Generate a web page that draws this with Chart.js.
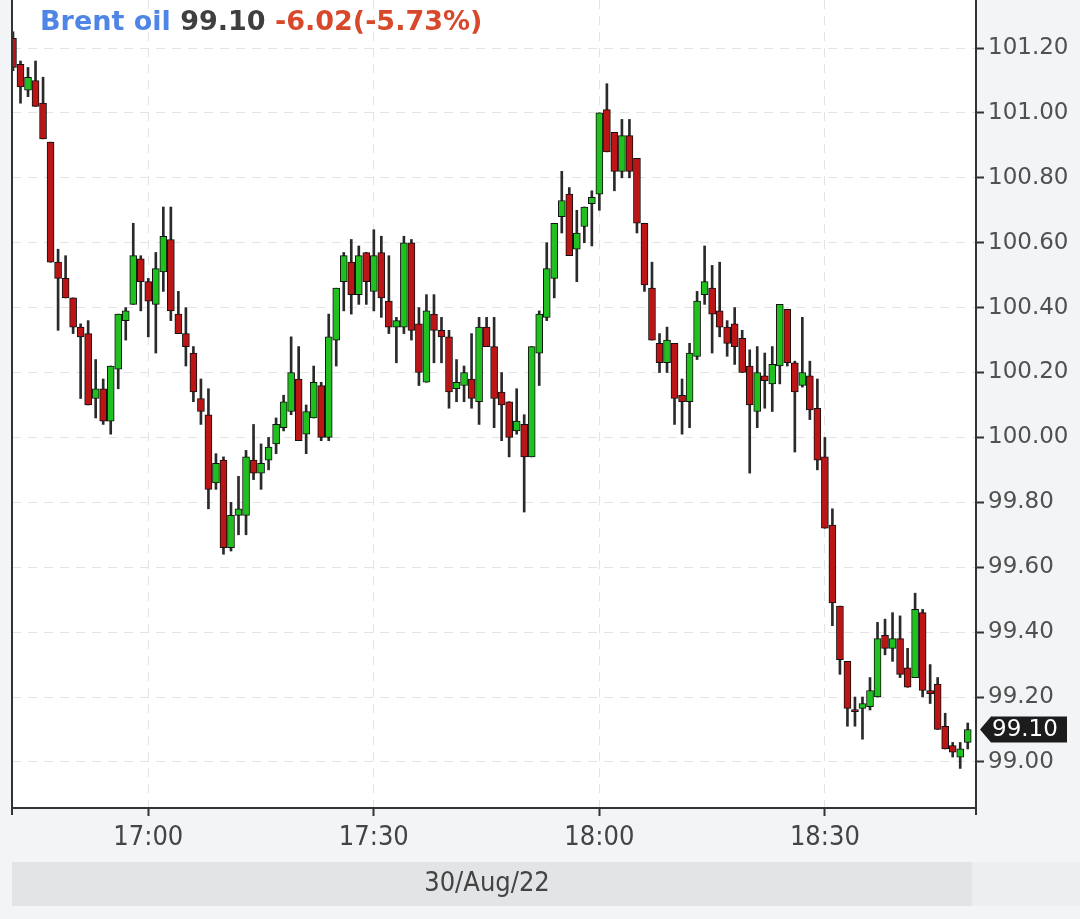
<!DOCTYPE html>
<html lang="en">
<head>
  <meta charset="UTF-8" />
  <title>Brent oil</title>
  <script src="https://cdn.jsdelivr.net/npm/chart.js"></script>
  <style>
    html, body { margin: 0; padding: 0; background: #f3f4f6; }
    #wrap { position: relative; width: 1080px; height: 919px; }
  </style>
</head>
<body>
<div id="wrap"><canvas id="oilChart"></canvas></div>

<script>
  // one candle per minute, 16:42 .. 18:49
  const opens = [101.23,101.15,101.07,101.10,101.03,100.91,100.54,100.49,100.43,100.34,100.32,100.12,100.15,100.05,100.21,100.36,
    100.41,100.55,100.48,100.41,100.51,100.61,100.38,100.32,100.26,100.12,100.07,99.86,99.93,99.66,99.76,99.76,
    99.93,99.89,99.93,99.98,100.03,100.08,100.18,100.01,100.06,100.16,100.00,100.30,100.48,100.54,100.44,100.57,
    100.45,100.57,100.42,100.34,100.34,100.60,100.35,100.17,100.38,100.33,100.31,100.15,100.16,100.18,100.11,100.34,
    100.28,100.14,100.11,100.02,100.04,99.94,100.26,100.37,100.49,100.68,100.75,100.58,100.65,100.72,100.75,101.01,
    100.94,100.82,100.93,100.86,100.66,100.46,100.29,100.23,100.29,100.13,100.11,100.25,100.44,100.46,100.39,100.34,
    100.35,100.305,100.22,100.08,100.19,100.165,100.22,100.395,100.23,100.16,100.19,100.09,99.94,99.73,99.48,99.31,
    99.16,99.165,99.17,99.20,99.39,99.35,99.38,99.29,99.26,99.46,99.22,99.24,99.11,99.05,99.015,99.06];
  const highs = [101.25,101.16,101.14,101.16,101.11,100.91,100.58,100.56,100.43,100.35,100.36,100.24,100.18,100.22,100.38,100.40,
    100.66,100.56,100.49,100.57,100.71,100.71,100.45,100.40,100.28,100.18,100.15,99.95,99.94,99.80,99.88,99.96,
    100.04,99.98,100.00,100.06,100.13,100.31,100.28,100.10,100.22,100.17,100.38,100.46,100.57,100.61,100.59,100.57,
    100.64,100.62,100.56,100.37,100.62,100.61,100.40,100.44,100.44,100.37,100.33,100.24,100.22,100.32,100.37,100.37,
    100.37,100.20,100.11,100.15,100.07,100.28,100.39,100.60,100.66,100.82,100.77,100.70,100.71,100.76,101.00,101.09,
    100.94,100.98,100.98,100.86,100.66,100.54,100.32,100.34,100.29,100.18,100.29,100.45,100.59,100.53,100.54,100.36,
    100.40,100.33,100.27,100.28,100.26,100.28,100.41,100.395,100.235,100.37,100.235,100.18,100.00,99.78,99.48,99.31,
    99.20,99.20,99.26,99.43,99.44,99.46,99.45,99.35,99.52,99.47,99.30,99.26,99.15,99.06,99.06,99.12];
  const lows = [101.13,101.03,101.05,101.02,100.92,100.54,100.33,100.43,100.32,100.12,100.10,100.06,100.04,100.01,100.15,100.30,
    100.41,100.39,100.31,100.26,100.45,100.36,100.32,100.22,100.11,100.04,99.78,99.84,99.64,99.65,99.70,99.70,
    99.87,99.84,99.90,99.95,100.02,100.07,99.99,99.95,100.06,99.99,99.99,100.22,100.39,100.38,100.41,100.41,
    100.39,100.37,100.32,100.23,100.32,100.30,100.16,100.17,100.23,100.23,100.09,100.11,100.11,100.09,100.04,100.28,
    100.03,99.99,99.94,100.01,99.77,99.94,100.16,100.36,100.43,100.63,100.56,100.48,100.60,100.59,100.70,100.88,
    100.76,100.80,100.80,100.63,100.45,100.30,100.20,100.20,100.04,100.01,100.03,100.24,100.41,100.26,100.31,100.25,
    100.225,100.20,99.89,100.03,100.09,100.08,100.165,100.22,99.955,100.155,100.055,99.90,99.72,99.42,99.27,99.11,
    99.11,99.07,99.16,99.20,99.33,99.31,99.26,99.23,99.26,99.20,99.18,99.10,99.04,99.015,98.98,99.04];
  const closes = [101.14,101.08,101.11,101.02,100.92,100.54,100.49,100.43,100.34,100.31,100.10,100.15,100.05,100.22,100.38,100.39,
    100.56,100.48,100.42,100.52,100.62,100.39,100.32,100.28,100.14,100.08,99.84,99.92,99.66,99.76,99.78,99.94,
    99.89,99.92,99.97,100.04,100.11,100.20,99.99,100.08,100.17,100.00,100.31,100.46,100.56,100.44,100.56,100.48,
    100.56,100.43,100.34,100.36,100.60,100.33,100.20,100.39,100.33,100.31,100.14,100.17,100.20,100.12,100.34,100.28,
    100.12,100.10,100.00,100.05,99.94,100.28,100.38,100.52,100.66,100.73,100.56,100.63,100.71,100.74,101.00,100.88,
    100.82,100.93,100.82,100.66,100.47,100.30,100.23,100.30,100.12,100.11,100.26,100.42,100.48,100.38,100.34,100.29,
    100.28,100.20,100.10,100.20,100.175,100.225,100.41,100.23,100.14,100.20,100.085,99.93,99.72,99.49,99.315,99.165,
    99.155,99.18,99.22,99.38,99.35,99.38,99.27,99.23,99.47,99.22,99.21,99.10,99.04,99.03,99.04,99.10];

  const yTicks = [99.00, 99.20, 99.40, 99.60, 99.80, 100.00, 100.20, 100.40, 100.60, 100.80, 101.00, 101.20];
  const xTickPos = [18, 48, 78, 108];           // candle index of each label
  const xTickLabels = ['17:00', '17:30', '18:00', '18:30'];
  const dateLabel = '30/Aug/22';
  const lastPrice = 99.10;
  const titleParts = [['Brent oil', '#4f86e6'], ['99.10', '#3f3f3f'], ['-6.02(-5.73%)', '#d8482a']];

  const UP = '#20c020';
  const DOWN = '#bb1515';

  const idx = opens.map((_, i) => i);
  const bodies = idx.map(i => ({ x: i, y: [opens[i], closes[i]] }));
  const wicks = idx.map(i => ({ x: i, y: [lows[i], highs[i]] }));
  const bodyColors = idx.map(i => closes[i] >= opens[i] ? UP : DOWN);

  const condensed = "'DejaVu Sans Condensed', 'Liberation Sans Narrow', sans-serif";

  const decor = {
    id: 'decor',
    beforeDraw(chart) {
      const { ctx, chartArea: a } = chart;
      ctx.save();
      ctx.fillStyle = '#ffffff';
      ctx.fillRect(a.left, 0, a.right - a.left, a.bottom);
      ctx.restore();
    },
    afterDraw(chart) {
      const { ctx, chartArea: a, scales } = chart;
      ctx.save();

      // left frame line
      ctx.strokeStyle = '#333';
      ctx.lineWidth = 2;
      ctx.beginPath();
      ctx.moveTo(a.left, 0);
      ctx.lineTo(a.left, a.bottom + 7);
      ctx.stroke();
      ctx.beginPath();
      ctx.moveTo(a.right, a.bottom);
      ctx.lineTo(a.right, a.bottom + 7);
      ctx.stroke();

      // title
      ctx.font = "bold 27px 'DejaVu Sans'";
      ctx.textBaseline = 'middle';
      let x = 40;
      titleParts.forEach(([txt, col]) => {
        ctx.fillStyle = col;
        ctx.fillText(txt, x, 23);
        x += ctx.measureText(txt + ' ').width;
      });

      // date bar
      ctx.fillStyle = '#e3e4e6';
      ctx.fillRect(a.left, 862, a.right - 4 - a.left, 44);
      ctx.fillStyle = '#eceef0';
      ctx.fillRect(a.right - 4, 862, 1080 - a.right + 4, 44);
      ctx.fillStyle = '#444';
      ctx.font = '27px ' + condensed;
      ctx.textAlign = 'center';
      ctx.fillText(dateLabel, 487, 884);

      // last price tag
      const yp = scales.y.getPixelForValue(lastPrice);
      ctx.fillStyle = '#1c1c1c';
      ctx.beginPath();
      ctx.moveTo(980, yp);
      ctx.lineTo(991, yp - 13);
      ctx.lineTo(1067, yp - 13);
      ctx.lineTo(1067, yp + 13);
      ctx.lineTo(991, yp + 13);
      ctx.closePath();
      ctx.fill();
      ctx.fillStyle = '#fff';
      ctx.font = "23px 'DejaVu Sans'";
      ctx.textAlign = 'left';
      ctx.fillText(lastPrice.toFixed(2), 992, yp + 1);

      ctx.restore();
    }
  };

  new Chart(document.getElementById('oilChart'), {
    type: 'bar',
    data: {
      datasets: [
        { label: 'wick', data: wicks, backgroundColor: '#2a2a2a', barThickness: 2, grouped: false, order: 2 },
        { label: 'body', data: bodies, backgroundColor: bodyColors, borderColor: '#111', borderWidth: 1,
          borderSkipped: false, barThickness: 7, minBarLength: 2, grouped: false, order: 1 }
      ]
    },
    options: {
      responsive: true,
      maintainAspectRatio: false,
      animation: false,
      layout: { padding: { left: 12, top: 0, right: 0, bottom: 0 } },
      plugins: { legend: { display: false }, tooltip: { enabled: false } },
      scales: {
        x: {
          type: 'linear',
          offset: false,
          min: -0.13,
          max: 128.1,
          afterBuildTicks: s => { s.ticks = xTickPos.map(v => ({ value: v })); },
          afterFit: s => { s.height = 111; s.paddingLeft = 0; s.paddingRight = 0; },
          ticks: {
            autoSkip: false,
            maxRotation: 0,
            padding: 6,
            color: '#444',
            font: { family: condensed, size: 27 },
            callback: (v, i) => xTickLabels[i]
          },
          grid: { offset: false, color: '#e3e3e3', lineWidth: 1, tickLength: 8, tickColor: '#333', tickWidth: 2 },
          border: { display: true, color: '#333', width: 2, dash: [9, 7] }
        },
        y: {
          type: 'linear',
          position: 'right',
          min: 98.858,
          max: 101.348,
          afterBuildTicks: s => { s.ticks = yTicks.map(v => ({ value: v })); },
          afterFit: s => { s.width = 104; s.paddingTop = 0; s.paddingBottom = 0; },
          ticks: {
            autoSkip: false,
            padding: 4,
            color: '#505050',
            font: { family: 'DejaVu Sans', size: 23 },
            callback: v => v.toFixed(2)
          },
          grid: { color: '#e3e3e3', lineWidth: 1, tickLength: 8, tickColor: '#333', tickWidth: 2 },
          border: { display: true, color: '#333', width: 2, dash: [9, 7] }
        }
      }
    },
    plugins: [decor]
  });
</script>
</body>
</html>
